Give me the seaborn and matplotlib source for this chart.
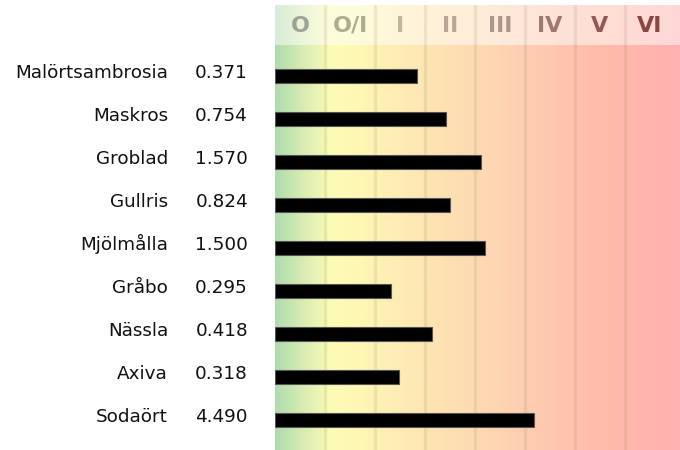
import numpy as np
import pandas as pd
import matplotlib
matplotlib.use("Agg")
import matplotlib.pyplot as plt
import matplotlib.transforms as mtransforms
from matplotlib.colors import LinearSegmentedColormap
import seaborn as sns

# data
species = ["Malörtsambrosia", "Maskros", "Groblad", "Gullris", "Mjölmålla",
           "Gråbo", "Nässla", "Axiva", "Sodaört"]
values = [0.371, 0.754, 1.570, 0.824, 1.500, 0.295, 0.418, 0.318, 4.490]
# bar length in class units (0 = start of O, 8 = end of VI)
levels = [2.83, 3.41, 4.11, 3.49, 4.20, 2.31, 3.14, 2.47, 5.17]
classes = ["O", "O/I", "I", "II", "III", "IV", "V", "VI"]
class_colors = ["#9fa394", "#abad90", "#c2b699", "#b9a597", "#ab958d",
                "#a07872", "#935a55", "#8a4745"]

df = pd.DataFrame({"species": species, "value": values, "level": levels})

W, H = 680, 450
fig = plt.figure(figsize=(W / 100, H / 100), dpi=100)
ax = fig.add_axes([275 / W, 0, (W - 275) / W, (450 - 5) / H])

xmax = 8.1
ytop, ybot = -1.65, 8.70
ax.set_xlim(0, xmax)
ax.set_ylim(ybot, ytop)

# background gradient green -> yellow -> orange -> red
cmap = LinearSegmentedColormap.from_list("pollen", [
    (0.0, "#b0dcb0"), (0.55 / xmax, "#d9ecb4"), (1.1 / xmax, "#fcfcb4"),
    (1.6 / xmax, "#fdf8b4"), (2.5 / xmax, "#fdecb4"), (3.5 / xmax, "#fde0b2"),
    (4.5 / xmax, "#fdd5b2"), (5.5 / xmax, "#fec8b0"), (6.5 / xmax, "#ffbcaa"),
    (1.0, "#ffb0b0")])
grad = np.linspace(0, 1, 400).reshape(1, -1)
ax.imshow(grad, cmap=cmap, aspect="auto", extent=(0, xmax, ybot, ytop),
          zorder=0, interpolation="bilinear")

# lighter header band
header = -0.72
ax.fill_between([0, xmax], ytop, header, color="white", alpha=0.5, lw=0, zorder=1)

# class dividers
for i in range(1, len(classes)):
    ax.axvline(i, color="#8a6a50", alpha=0.12, lw=2.3, zorder=1)

for i, (lab, c) in enumerate(zip(classes, class_colors)):
    ax.text(i + 0.5, -1.17, lab, ha="center", va="center", fontsize=16,
            fontweight="bold", color=c, zorder=3)

sns.barplot(data=df, x="level", y="species", orient="h", color="black",
            width=0.33, edgecolor="#555555", linewidth=0.8, ax=ax, zorder=2)
ax.set_xlim(0, xmax)
ax.set_ylim(ybot, ytop)
ax.axis("off")

trans = mtransforms.blended_transform_factory(fig.transFigure, ax.transData)
for i, (sp, v) in enumerate(zip(species, values)):
    ax.text(168 / W, i + 0.05, sp, transform=trans, ha="right", va="baseline",
            fontsize=13.2, color="#111111")
    ax.text(248 / W, i + 0.05, f"{v:.3f}", transform=trans, ha="right",
            va="baseline", fontsize=13.2, color="#111111")

fig.savefig("out.png", dpi=100)
